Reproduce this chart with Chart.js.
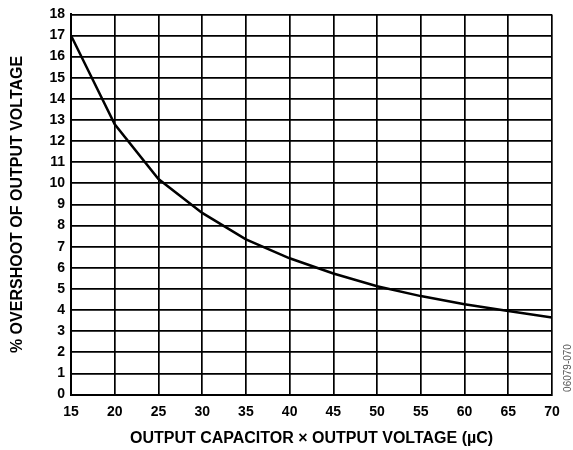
<!DOCTYPE html>
<html>
<head>
<meta charset="utf-8">
<script src="https://cdn.jsdelivr.net/npm/chart.js@4/dist/chart.umd.min.js"></script>
<style>
  html, body { margin: 0; padding: 0; background: #fff; }
  #wrap { width: 573px; height: 450px; position: relative; }
</style>
</head>
<body>
<div id="wrap"><canvas id="c" width="573" height="450"></canvas></div>
<script>
// Overshoot vs. output capacitor × output voltage
const capTimesVolt = [15, 20, 25, 30, 35, 40, 45, 50, 55, 60, 65, 70];          // µC
const overshootPct = [17.0, 12.8, 10.2, 8.6, 7.35, 6.45, 5.73, 5.13, 4.66, 4.27, 3.95, 3.64];
const xTicks = [15, 20, 25, 30, 35, 40, 45, 50, 55, 60, 65, 70];
const yTicks = [0, 1, 2, 3, 4, 5, 6, 7, 8, 9, 10, 11, 12, 13, 14, 15, 16, 17, 18];

const xTitle = 'OUTPUT CAPACITOR \u00D7 OUTPUT VOLTAGE (\u00B5C)';
const yTitle = '% OVERSHOOT OF OUTPUT VOLTAGE';
const figureId = '06079-070';

const FONT = '"Liberation Sans", Arial, sans-serif';

// Small vertical figure id printed at the right edge
const figureIdPlugin = {
  id: 'figureId',
  afterDraw(chart) {
    const ctx = chart.ctx;
    ctx.save();
    ctx.translate(568, 368);
    ctx.rotate(-Math.PI / 2);
    ctx.font = '10px ' + FONT;
    ctx.fillStyle = '#555';
    ctx.textAlign = 'center';
    ctx.textBaseline = 'middle';
    ctx.fillText(figureId, 0, 0);
    ctx.restore();
  }
};

new Chart(document.getElementById('c'), {
  type: 'line',
  data: {
    datasets: [{
      data: capTimesVolt.map((x, i) => ({ x, y: overshootPct[i] })),
      borderColor: '#000',
      borderWidth: 2.5,
      pointRadius: 0,
      tension: 0,
      fill: false
    }]
  },
  options: {
    responsive: false,
    animation: false,
    layout: { padding: { left: 0, right: 21, top: 10, bottom: 0 } },
    plugins: { legend: { display: false }, tooltip: { enabled: false } },
    scales: {
      x: {
        type: 'linear',
        min: 15, max: 70,
        afterBuildTicks: s => { s.ticks = xTicks.map(v => ({ value: v })); },
        afterFit: s => { s.height = 55.5; },
        grid: { color: '#000', lineWidth: 1.7, drawTicks: false },
        border: { color: '#000', width: 2 },
        ticks: {
          padding: 9,
          color: '#000',
          font: { family: FONT, size: 14, weight: 'bold' },
          maxRotation: 0
        },
        title: {
          display: true,
          text: xTitle,
          color: '#000',
          font: { family: FONT, size: 16, weight: 'bold' },
          padding: { top: 0, bottom: 1.5 }
        }
      },
      y: {
        type: 'linear',
        min: 0, max: 18,
        afterBuildTicks: s => { s.ticks = yTicks.map(v => ({ value: v })); },
        afterFit: s => { s.width = 71; },
        grid: { color: '#000', lineWidth: 1.7, drawTicks: false },
        border: { color: '#000', width: 2 },
        ticks: {
          padding: 6,
          color: '#000',
          font: { family: FONT, size: 14, weight: 'bold' }
        },
        title: {
          display: true,
          text: yTitle,
          color: '#000',
          font: { family: FONT, size: 16, weight: 'bold' },
          padding: { top: 7.5, bottom: 0 }
        }
      }
    }
  },
  plugins: [figureIdPlugin]
});
</script>
</body>
</html>
